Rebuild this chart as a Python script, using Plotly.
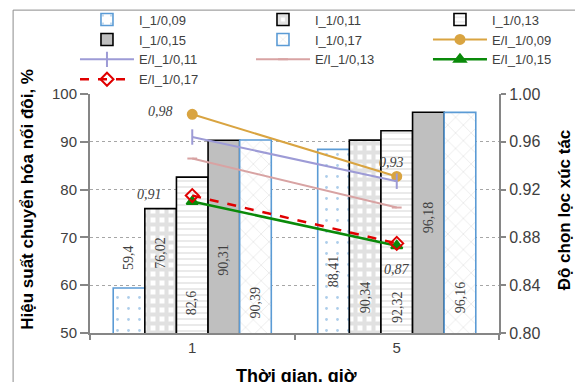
import plotly.graph_objects as go

# Reaction time (hours)
times = ["1", "5"]

# Conversion of double bonds, % (left axis)
bar_names = ["I_1/0,09", "I_1/0,11", "I_1/0,13", "I_1/0,15", "I_1/0,17"]
conv_009 = [59.4, 88.41]
conv_011 = [76.02, 90.34]
conv_013 = [82.6, 92.32]
conv_015 = [90.31, 96.18]
conv_017 = [90.39, 96.16]
bar_values = [conv_009, conv_011, conv_013, conv_015, conv_017]

# Catalyst selectivity (right axis)
line_names = ["E/I_1/0,09", "E/I_1/0,11", "E/I_1/0,13", "E/I_1/0,15", "E/I_1/0,17"]
sel_009 = [0.983, 0.931]
sel_011 = [0.964, 0.927]
sel_013 = [0.946, 0.905]
sel_015 = [0.910, 0.873]
sel_017 = [0.915, 0.875]
line_values = [sel_009, sel_011, sel_013, sel_015, sel_017]

# ---- styling ----
BLUE_EDGE = "#5b9bd5"
AXIS = "#868686"
TXT = "#404040"

bar_styles = [
    dict(line=BLUE_EDGE, pattern=dict(shape=".", fgcolor=BLUE_EDGE, bgcolor="white", size=11, solidity=0.05)),
    dict(line="black", pattern=dict(shape="+", fgcolor="#c4c4c4", bgcolor="white", size=9, solidity=0.7)),
    dict(line="black", pattern=dict(shape="-", fgcolor="#c8c8c8", bgcolor="white", size=6, solidity=0.25)),
    dict(line="black", color="#bfbfbf"),
    dict(line=BLUE_EDGE, pattern=dict(shape="x", fgcolor="#c8c8c8", bgcolor="white", size=11, solidity=0.12)),
]

line_styles = [
    dict(color="#d9a441", width=2, dash="solid", symbol="circle", size=9),
    dict(color="#9d9bd6", width=2, dash="solid", symbol="line-ns", size=11),
    dict(color="#d8a3a3", width=2, dash="solid", symbol="line-ew", size=7),
    dict(color="#0a8a0a", width=2.5, dash="solid", symbol="triangle-up", size=10),
    dict(color="#e00000", width=2.5, dash="dash", symbol="diamond-open", size=10),
]

# vertical centre of each rotated bar label, in left-axis units
label_anchor = [
    [65.7, 62.8],
    [66.7, 57.5],
    [56.3, 55.4],
    [65.3, 74.3],
    [56.5, 57.5],
]

# the legend is laid out in three columns, filled row by row
legend_ids = ["legend", "legend2", "legend3"]

BARGAP = 0.227
n_bars = len(bar_values)
bar_w = (1 - BARGAP) / n_bars

fig = go.Figure()

for i, (name, vals, st) in enumerate(zip(bar_names, bar_values, bar_styles)):
    marker = dict(line=dict(color=st["line"], width=1.6))
    if "pattern" in st:
        marker["color"] = "white"
        marker["pattern"] = st["pattern"]
    else:
        marker["color"] = st["color"]
    fig.add_trace(go.Bar(x=times, y=vals, name=name, marker=marker, yaxis="y",
                         legend=legend_ids[i % 3]))

for j, (name, vals, st) in enumerate(zip(line_names, line_values, line_styles)):
    i = n_bars + j
    mk = dict(symbol=st["symbol"], size=st["size"], color=st["color"],
              line=dict(color=st["color"], width=2))
    fig.add_trace(go.Scatter(
        x=times, y=vals, name=name, yaxis="y2", mode="lines+markers",
        line=dict(color=st["color"], width=st["width"], dash=st["dash"]),
        marker=mk, legend=legend_ids[i % 3],
    ))

annotations = []

def fmt(v, nd=None):
    s = f"{v:.{nd}f}" if nd is not None else f"{v:g}"
    return s.replace(".", ",")

# rotated value labels on bars
for k, (vals, anchors) in enumerate(zip(bar_values, label_anchor)):
    for ci, (v, ay) in enumerate(zip(vals, anchors)):
        annotations.append(dict(
            x=ci + (k - (n_bars - 1) / 2) * bar_w, y=ay, xref="x", yref="y",
            text=fmt(v), textangle=-90, showarrow=False,
            font=dict(family="Liberation Serif", size=14, color=TXT),
        ))

# selectivity value labels (series index, point index, x shift, y shift)
sel_labels = [(0, 0, -32, 3), (0, 1, -5, 14), (3, 0, -43, 7), (3, 1, 0, -24)]
for si, pi, dx, dy in sel_labels:
    annotations.append(dict(
        x=pi, y=line_values[si][pi], xref="x", yref="y2",
        text=f"<i>{fmt(line_values[si][pi], 2)}</i>", showarrow=False,
        xshift=dx, yshift=dy,
        font=dict(family="Liberation Serif", size=14, color=TXT),
    ))

# axis titles
title_font = dict(family="Liberation Sans", size=17, color="black")
annotations += [
    dict(x=-0.152, y=0.561, xref="paper", yref="paper", textangle=-90, showarrow=False,
         xanchor="center", yanchor="middle",
         text="<b>Hiệu suất chuyển hóa nối đôi, %</b>", font=title_font),
    dict(x=1.161, y=0.517, xref="paper", yref="paper", textangle=-90, showarrow=False,
         xanchor="center", yanchor="middle",
         text="<b>Độ chọn lọc xúc tác</b>", font=title_font),
    dict(x=0.506, y=-0.18, xref="paper", yref="paper", showarrow=False,
         xanchor="center", yanchor="middle",
         text="<b>Thời gian, giờ</b>", font=dict(family="Liberation Sans", size=18, color="black")),
]

legend_common = dict(
    orientation="v", xref="container", yref="container", y=0.988,
    xanchor="left", yanchor="top", itemwidth=54,
    font=dict(family="Liberation Sans", size=13, color=TXT),
    bgcolor="rgba(0,0,0,0)", traceorder="normal",
)

fig.update_layout(
    width=575, height=382,
    margin=dict(l=90, r=76, t=94, b=49, autoexpand=False),
    paper_bgcolor="white", plot_bgcolor="white",
    barmode="group", bargap=BARGAP, bargroupgap=0,
    font=dict(family="Liberation Sans", size=15, color=TXT),
    showlegend=True,
    legend=dict(x=0.1304, **legend_common),
    legend2=dict(x=0.4365, **legend_common),
    legend3=dict(x=0.7443, **legend_common),
    xaxis=dict(
        type="category", range=[-0.5, 1.5], tickson="boundaries",
        ticks="outside", ticklen=5, tickcolor=AXIS, tickwidth=1.5,
        showline=True, linecolor=AXIS, linewidth=2,
        showgrid=False, tickfont=dict(size=15, color=TXT),
    ),
    yaxis=dict(
        range=[50, 100], dtick=10, tick0=50,
        showgrid=True, gridcolor="#a6a6a6", griddash="dot", gridwidth=1,
        ticks="outside", ticklen=8, tickcolor=AXIS, tickwidth=1.5,
        showline=True, linecolor=AXIS, linewidth=2, zeroline=False,
        tickfont=dict(size=15, color=TXT),
    ),
    yaxis2=dict(
        overlaying="y", side="right", range=[0.8, 1.0], dtick=0.04, tick0=0.8,
        tickformat=".2f", showgrid=False,
        ticks="outside", ticklen=5, tickcolor=AXIS, tickwidth=1.5,
        showline=True, linecolor=AXIS, linewidth=2, zeroline=False,
        tickfont=dict(size=16, color=TXT),
    ),
    annotations=annotations,
    shapes=[dict(type="rect", xref="paper", yref="paper",
                 x0=-0.188, x1=1.3, y0=-0.6, y1=1.351,
                 line=dict(color="#8c8c8c", width=1), fillcolor="rgba(0,0,0,0)", layer="below")],
)

fig.write_html("out.html")
